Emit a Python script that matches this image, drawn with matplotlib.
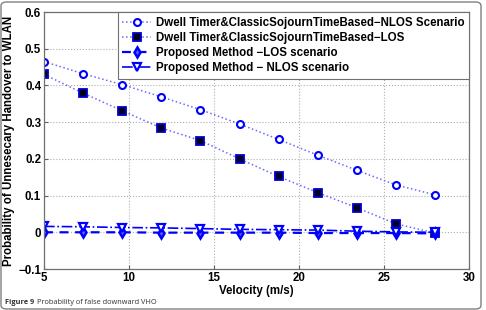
import matplotlib.pyplot as plt
from matplotlib.patches import FancyBboxPatch

# data
velocity = [5, 7.3, 9.6, 11.9, 14.2, 16.5, 18.8, 21.1, 23.4, 25.7, 28.0]
dwell_nlos = [0.465, 0.432, 0.402, 0.369, 0.334, 0.295, 0.253, 0.210, 0.169, 0.129, 0.102]
dwell_los = [0.430, 0.379, 0.331, 0.284, 0.250, 0.200, 0.152, 0.108, 0.067, 0.023, -0.002]
proposed_los = [0.0, 0.0, 0.0, -0.001, -0.001, -0.001, -0.001, -0.002, -0.002, -0.002, -0.003]
proposed_nlos = [0.016, 0.015, 0.013, 0.012, 0.010, 0.008, 0.007, 0.006, 0.003, 0.001, 0.0]

labels = ['Dwell Timer&ClassicSojournTimeBased\u2212NLOS Scenario',
          'Dwell Timer&ClassicSojournTimeBased\u2212LOS',
          'Proposed Method \u2212LOS scenario',
          'Proposed Method \u2212 NLOS scenario']

plt.rcParams['font.family'] = ['Liberation Sans', 'DejaVu Sans']
fs = 8.3

fig = plt.figure(figsize=(4.86, 3.10), dpi=100)
ax = fig.add_axes([44 / 486, 1 - 269 / 310, 425 / 486, 257 / 310])

blue = '#0000ff'
ax.plot(velocity, dwell_nlos, ':', color='#6a6aff', lw=1.1, marker='o', ms=5,
        mfc='white', mec=blue, mew=1.5, label=labels[0])
ax.plot(velocity, dwell_los, ':', color='#6a6aff', lw=1.1, marker='s', ms=6,
        mfc='#000022', mec='#0000cc', mew=1.3, label=labels[1])
ax.plot(velocity, proposed_los, '--', color=blue, lw=1.6, dashes=(4, 3), marker='d', ms=5.5,
        mfc='#6060ff', mec=blue, mew=1.8, label=labels[2])
ax.plot(velocity, proposed_nlos, '-.', color=blue, lw=1.2, marker='v', ms=6,
        mfc='white', mec=blue, mew=1.6, label=labels[3])

ax.set_xlim(5, 30)
ax.set_ylim(-0.1, 0.6)
ax.set_xticks([5, 10, 15, 20, 25, 30])
ax.set_yticks([-0.1, 0, 0.1, 0.2, 0.3, 0.4, 0.5, 0.6])
ax.set_yticklabels(['\u22120.1', '0', '0.1', '0.2', '0.3', '0.4', '0.5', '0.6'])
ax.grid(True, ls=':', color='#b0b0b0', lw=0.8)
ax.tick_params(direction='in', length=3, labelsize=fs, pad=2, color='#606060')
for lab in ax.get_xticklabels() + ax.get_yticklabels():
    lab.set_fontweight('bold')
for sp in ax.spines.values():
    sp.set_color('#707070')
    sp.set_linewidth(0.9)

ax.set_xlabel('Velocity (m/s)', fontsize=fs, fontweight='bold', labelpad=1)
ax.set_ylabel('Probability of Unnesecary Handover to WLAN', fontsize=fs,
              fontweight='bold', labelpad=2)

leg = ax.legend(loc='upper right', prop={'weight': 'bold', 'size': fs},
                handlelength=2.5, handletextpad=0.4, borderaxespad=0.0,
                labelspacing=0.28, borderpad=0.4, fancybox=False, framealpha=1)
leg.get_frame().set_edgecolor('#707070')
leg.get_frame().set_linewidth(0.8)

# outer rounded border around the figure
border = FancyBboxPatch((1 / 486, 1 / 310), 480 / 486, 307 / 310,
                        boxstyle='round,pad=0,rounding_size=0.012',
                        transform=fig.transFigure, fill=False,
                        ec='#808080', lw=1.0)
fig.patches.append(border)

cap = fig.text(5 / 486, 1 - 302 / 310, 'Figure 9', fontsize=5.3, fontweight='bold',
               color='#333333', va='center', family=['Open Sans', 'DejaVu Sans'])
ax.annotate('Probability of false downward VHO', xy=(1, 0.5), xycoords=cap,
            xytext=(2, 0), textcoords='offset points', fontsize=5.3,
            color='#333333', va='center', family=['Open Sans', 'DejaVu Sans'],
            annotation_clip=False)

fig.savefig('out.png', dpi=100)
